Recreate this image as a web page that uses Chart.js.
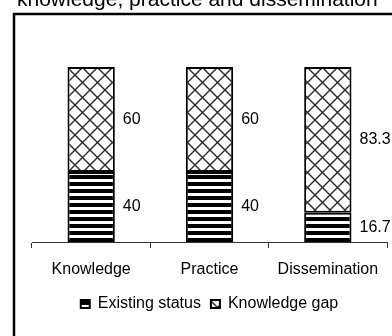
<!DOCTYPE html>
<html>
<head>
<meta charset="utf-8">
<script src="https://cdn.jsdelivr.net/npm/chart.js@4/dist/chart.umd.min.js"></script>
<style>
  html, body { margin: 0; padding: 0; background: #fff; }
  #wrap { position: relative; width: 392px; height: 336px; }
</style>
</head>
<body>
<div id="wrap"><canvas id="c" width="392" height="336"></canvas></div>
<script>
// Categories and stacked percentages (existing status + knowledge gap = 100)
const categories = ['Knowledge', 'Practice', 'Dissemination'];
const existingStatus = [40, 40, 16.7];
const knowledgeGap = [60, 60, 83.3];
const seriesNames = ['Existing status', 'Knowledge gap'];
const captionText = 'knowledge, practice and dissemination';

const FONT = '"Liberation Sans", Arial, sans-serif';

// Horizontal black/white stripes
function stripePattern() {
  const t = document.createElement('canvas');
  t.width = 8; t.height = 7;
  const g = t.getContext('2d');
  g.fillStyle = '#fff'; g.fillRect(0, 0, 8, 7);
  g.fillStyle = '#000'; g.fillRect(0, 0, 8, 4);
  return g.createPattern(t, 'repeat');
}

// Diagonal cross-hatch (diamond lattice)
function hatchPattern() {
  const s = 15;
  const t = document.createElement('canvas');
  t.width = s; t.height = s;
  const g = t.getContext('2d');
  g.fillStyle = '#fff'; g.fillRect(0, 0, s, s);
  g.strokeStyle = '#2a2a2a'; g.lineWidth = 1.4;
  g.beginPath();
  g.moveTo(-2, -2); g.lineTo(s + 2, s + 2);
  g.moveTo(s + 2, -2); g.lineTo(-2, s + 2);
  g.stroke();
  return g.createPattern(t, 'repeat');
}

// Outer figure frame and caption above it
const framePlugin = {
  id: 'frame',
  beforeDraw(chart) {
    const ctx = chart.ctx;
    ctx.save();
    ctx.fillStyle = '#fff';
    ctx.fillRect(0, 0, chart.width, chart.height);
    ctx.strokeStyle = '#000';
    ctx.lineWidth = 2.5;
    ctx.strokeRect(14, 14, 500, 500);
    ctx.fillStyle = '#000';
    ctx.font = '21px ' + FONT;
    ctx.textBaseline = 'alphabetic';
    ctx.textAlign = 'left';
    ctx.fillText(captionText, 17, 6);
    ctx.restore();
  }
};

// Value labels to the right of each stacked segment
const valueLabels = {
  id: 'valueLabels',
  afterDatasetsDraw(chart) {
    const ctx = chart.ctx;
    ctx.save();
    ctx.fillStyle = '#000';
    ctx.font = '16px ' + FONT;
    ctx.textAlign = 'left';
    ctx.textBaseline = 'middle';
    chart.data.datasets.forEach((ds, di) => {
      const meta = chart.getDatasetMeta(di);
      meta.data.forEach((el, i) => {
        const v = ds.data[i];
        const x = el.x + el.width / 2 + 8;
        const y = (el.y + el.base) / 2;
        ctx.fillText(String(v), x, y);
      });
    });
    ctx.restore();
  }
};

new Chart(document.getElementById('c'), {
  type: 'bar',
  data: {
    labels: categories,
    datasets: [
      {
        label: seriesNames[0],
        data: existingStatus,
        backgroundColor: stripePattern(),
        borderColor: '#000',
        borderWidth: 2,
        borderSkipped: false
      },
      {
        label: seriesNames[1],
        data: knowledgeGap,
        backgroundColor: hatchPattern(),
        borderColor: '#000',
        borderWidth: 2,
        borderSkipped: false
      }
    ]
  },
  options: {
    responsive: false,
    animation: false,
    layout: { padding: { left: 32, right: 5, top: 67, bottom: 14 } },
    datasets: { bar: { categoryPercentage: 1, barPercentage: 0.4 } },
    scales: {
      x: {
        stacked: true,
        grid: {
          display: true,
          offset: true,
          drawOnChartArea: false,
          drawTicks: true,
          tickLength: 6,
          color: '#333'
        },
        border: { display: true, color: '#333', width: 1 },
        ticks: { color: '#000', font: { family: FONT, size: 16 }, padding: 12, maxRotation: 0 },
        afterFit(scale) { scale.height = 44; }
      },
      y: {
        stacked: true,
        display: false,
        min: 0,
        max: 100
      }
    },
    plugins: {
      legend: {
        position: 'bottom',
        labels: {
          color: '#000',
          font: { family: FONT, size: 16 },
          boxWidth: 9,
          boxHeight: 8,
          padding: 10
        }
      },
      tooltip: { enabled: false }
    }
  },
  plugins: [framePlugin, valueLabels]
});
</script>
</body>
</html>
